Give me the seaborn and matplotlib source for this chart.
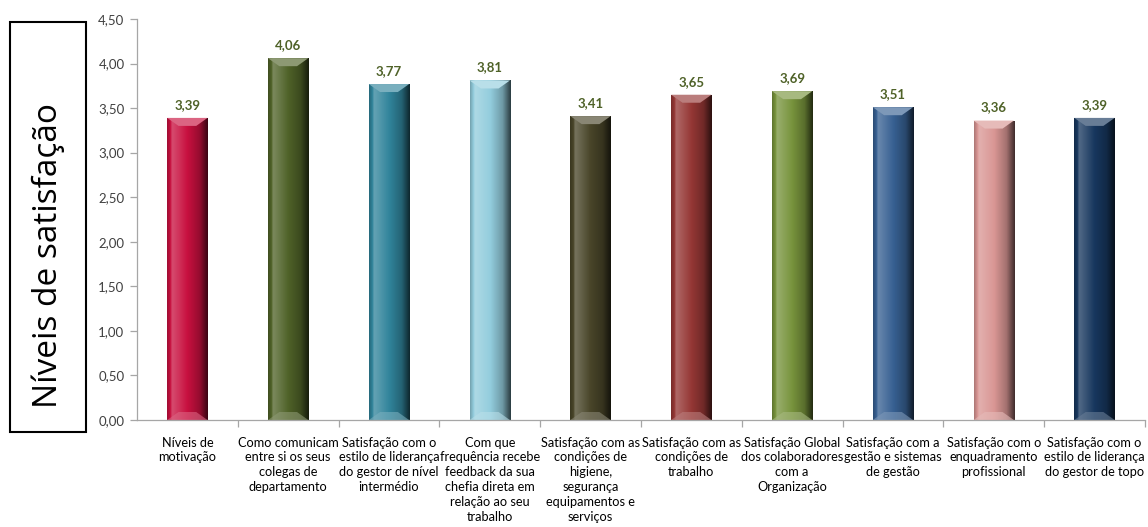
import numpy as np
import pandas as pd
import matplotlib
matplotlib.use("Agg")
import matplotlib.pyplot as plt
import matplotlib.colors as mcolors
from matplotlib.patches import Rectangle, Polygon
from matplotlib.ticker import MultipleLocator, FuncFormatter
import seaborn as sns

categories = [
    "Níveis de\nmotivação",
    "Como comunicam\nentre si os seus\ncolegas de\ndepartamento",
    "Satisfação com o\nestilo de liderança\ndo gestor de nível\nintermédio",
    "Com que\nfrequência recebe\nfeedback da sua\nchefia direta em\nrelação ao seu\ntrabalho",
    "Satisfação com as\ncondições de\nhigiene,\nsegurança\nequipamentos e\nserviços",
    "Satisfação com as\ncondições de\ntrabalho",
    "Satisfação Global\ndos colaboradores\ncom a\nOrganização",
    "Satisfação com a\ngestão e sistemas\nde gestão",
    "Satisfação com o\nenquadramento\nprofissional",
    "Satisfação com o\nestilo de liderança\ndo gestor de topo",
]
values = [3.39, 4.06, 3.77, 3.81, 3.41, 3.65, 3.69, 3.51, 3.36, 3.39]
bar_colors = ["#C8103F", "#4F6228", "#31849B", "#93CDDD", "#494529",
              "#953735", "#77933C", "#376092", "#D99694", "#17375E"]
y_label = "Níveis de satisfação"

sns.set_theme(style="white")
plt.rcParams["font.family"] = ["Lato", "DejaVu Sans"]

fig = plt.figure(figsize=(11.48, 5.27), dpi=100)
ax = fig.add_axes([0.1193, 0.203, 0.878, 0.761])

df = pd.DataFrame({"cat": categories, "val": values})
sns.barplot(data=df, x="cat", y="val", hue="cat", palette=bar_colors,
            legend=False, width=0.4, ax=ax, saturation=1)

ax.set_xlim(-0.5, len(categories) - 0.5)
ax.set_ylim(0, 4.5)
ax.yaxis.set_major_locator(MultipleLocator(0.5))
ax.yaxis.set_major_formatter(FuncFormatter(lambda v, p: f"{v:.2f}".replace(".", ",")))
ax.set_xlabel("")
ax.set_ylabel("")

for s in ["top", "right"]:
    ax.spines[s].set_visible(False)
for s in ["left", "bottom"]:
    ax.spines[s].set_color("#A6A6A6")
    ax.spines[s].set_linewidth(0.9)

ax.tick_params(axis="y", which="major", left=True, length=5, width=0.9,
               color="#A6A6A6", labelsize=9.5, labelcolor="#404040", pad=4)
ax.tick_params(axis="x", which="major", bottom=False, labelsize=9.2,
               labelcolor="#000000", pad=6)
ax.set_xticks(np.arange(len(categories)) + 0.5, minor=True)
ax.tick_params(axis="x", which="minor", bottom=True, length=5, width=0.9,
               color="#A6A6A6")
for lbl in ax.get_xticklabels():
    lbl.set_ha("center")
    lbl.set_va("top")
    lbl.set_multialignment("center")
    lbl.set_linespacing(1.28)

# shaded, bevelled look for each bar
fig.canvas.draw()
px_per_unit = ax.get_window_extent().height / 4.5
bevel = 8 / px_per_unit
cols = np.linspace(0, 1, 64)
shade = np.interp(cols, [0, 0.12, 0.5, 0.8, 1.0], [0.80, 1.10, 1.0, 0.75, 0.30])
for idx, (patch, color) in enumerate(zip(list(ax.patches), bar_colors)):
    x, y = patch.get_x(), patch.get_y()
    w, h = patch.get_width(), patch.get_height()
    base = np.array(mcolors.to_rgb(color))
    img = np.zeros((1, len(cols), 3))
    for i, f in enumerate(shade):
        if f >= 1:
            img[0, i] = base + (1 - base) * (f - 1) * 2.5
        else:
            img[0, i] = base * f
    img = np.clip(img, 0, 1)
    im = ax.imshow(img, extent=[x, x + w, y, y + h], aspect="auto",
                   zorder=patch.get_zorder() + 0.1, interpolation="bilinear")
    im.set_clip_path(patch)
    top = y + h
    light = np.clip(base + (1 - base) * 0.35, 0, 1)
    ax.add_patch(Polygon([[x, top], [x + w, top], [x + w * 0.72, top - bevel],
                          [x + w * 0.28, top - bevel]], closed=True,
                         facecolor=light, edgecolor="none",
                         zorder=patch.get_zorder() + 0.2))
    ax.add_patch(Polygon([[x, y], [x + w, y], [x + w * 0.72, y + bevel],
                          [x + w * 0.28, y + bevel]], closed=True,
                         facecolor=light, edgecolor="none", alpha=0.6,
                         zorder=patch.get_zorder() + 0.2))
    ax.text(x + w / 2, top + 0.08, f"{values[idx]:.2f}".replace(".", ","),
            ha="center", va="bottom", fontsize=9.5, fontweight="bold",
            color="#4F6228")

# boxed axis title on the left
fig.add_artist(Rectangle((10 / 1148, 1 - 432 / 527), 76 / 1148, 410 / 527,
                         transform=fig.transFigure, fill=False,
                         edgecolor="black", linewidth=1.5))
fig.text(48 / 1148, 1 - 255 / 527, y_label, rotation=90, ha="center",
         va="center", fontsize=24, color="black",
         family=["Open Sans", "DejaVu Sans"])

fig.savefig("out.png", dpi=100)
